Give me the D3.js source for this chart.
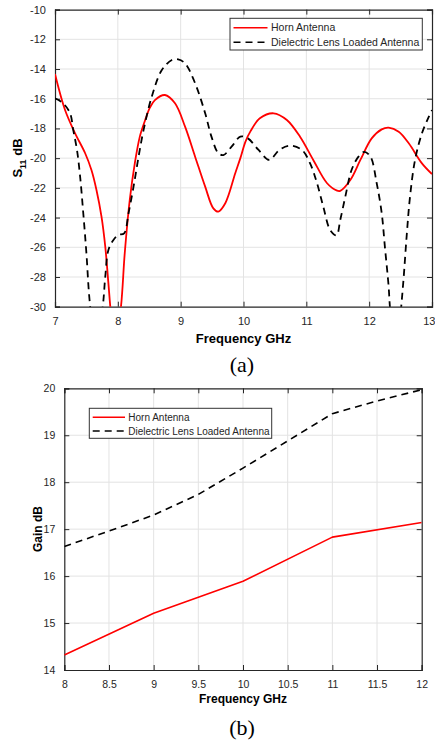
<!DOCTYPE html>
<html>
<head>
<meta charset="utf-8">
<script src="https://cdn.jsdelivr.net/npm/d3@7"></script>
<style>
  html, body { margin: 0; padding: 0; background: #fff; }
  svg { display: block; }
</style>
</head>
<body>
<svg id="chart" width="435" height="742"></svg>
<script>
// ---------- Data: (a) S11 ----------
const hornFreqA = [7.0, 7.16, 7.32, 7.48, 7.58, 7.66, 7.74, 7.80, 7.85, 7.88, 7.95, 8.05, 8.11, 8.19, 8.27, 8.35, 8.43, 8.51, 8.59, 8.75, 8.91, 9.07, 9.23, 9.39, 9.52, 9.60, 9.71, 9.87, 9.95, 10.03, 10.11, 10.26, 10.48, 10.69, 10.90, 11.11, 11.33, 11.49, 11.54, 11.70, 11.86, 12.04, 12.20, 12.31, 12.47, 12.63, 12.84, 13.0];
const hornS11 = [-14.34, -16.76, -18.33, -19.67, -20.8, -22.14, -23.94, -25.96, -28.43, -30.0, -33.0, -30.0, -26.4, -22.8, -20.35, -18.55, -17.5, -16.6, -16.09, -15.75, -16.31, -17.88, -19.9, -21.92, -23.38, -23.6, -23.04, -21.0, -20.0, -18.9, -18.2, -17.32, -16.98, -17.43, -18.56, -20.12, -21.69, -22.19, -22.2, -21.47, -20.12, -18.67, -18.06, -17.95, -18.22, -19.0, -20.35, -21.07];

const lensFreqA = [7.0, 7.13, 7.24, 7.29, 7.35, 7.40, 7.45, 7.50, 7.55, 7.65, 7.76, 7.80, 7.85, 7.93, 8.01, 8.10, 8.17, 8.25, 8.33, 8.41, 8.54, 8.70, 8.86, 8.96, 9.07, 9.23, 9.39, 9.49, 9.60, 9.68, 9.81, 9.95, 10.07, 10.24, 10.41, 10.57, 10.73, 10.93, 11.06, 11.17, 11.27, 11.38, 11.48, 11.54, 11.62, 11.72, 11.83, 11.92, 12.02, 12.12, 12.20, 12.25, 12.31, 12.33, 12.42, 12.51, 12.55, 12.60, 12.65, 12.73, 12.84, 12.95, 13.0];
const lensS11 = [-15.97, -16.31, -16.98, -18.1, -19.45, -21.25, -23.71, -26.4, -29.55, -33.0, -30.0, -27.98, -26.18, -25.51, -25.17, -25.06, -23.71, -21.92, -19.9, -18.1, -15.86, -14.07, -13.39, -13.35, -13.62, -14.96, -16.98, -18.55, -19.67, -19.79, -19.23, -18.55, -18.67, -19.45, -20.12, -19.45, -19.16, -19.45, -20.35, -21.69, -23.27, -24.84, -25.2, -24.16, -22.6, -20.8, -19.9, -19.58, -19.9, -21.69, -23.71, -25.96, -28.65, -30.0, -34.0, -30.0, -27.98, -25.06, -22.6, -20.12, -18.33, -17.21, -16.76];

const xTicksA = [7, 8, 9, 10, 11, 12, 13];
const yTicksA = [-30, -28, -26, -24, -22, -20, -18, -16, -14, -12, -10];

// ---------- Data: (b) Gain ----------
const freqB = [8, 9, 10, 11, 12];
const hornGain = [14.32, 15.21, 15.89, 16.83, 17.14];
const lensFreqB = [8, 8.5, 9, 9.5, 10, 10.5, 11, 11.5, 12];
const lensGain = [16.63, 16.96, 17.30, 17.74, 18.30, 18.88, 19.46, 19.73, 19.97];

const xTicksB = [8, 8.5, 9, 9.5, 10, 10.5, 11, 11.5, 12];
const yTicksB = [14, 15, 16, 17, 18, 19, 20];

const seriesNames = ["Horn Antenna", "Dielectric Lens Loaded Antenna"];

// ---------- Drawing ----------
const svg = d3.select("#chart");
const FONT = "'Liberation Sans', Arial, Helvetica, sans-serif";
const TXT = "#262626";
const DASH = "7,5";

function panel(opts) {
  const { id, left, top, right, bottom, xDomain, yDomain, xTicks, yTicks, tickFmt, tickFont } = opts;
  const x = d3.scaleLinear().domain(xDomain).range([left, right]);
  const y = d3.scaleLinear().domain(yDomain).range([bottom, top]);
  const g = svg.append("g");

  // grid
  g.append("g").selectAll("line").data(xTicks.slice(1, -1)).join("line")
    .attr("x1", d => x(d)).attr("x2", d => x(d)).attr("y1", top).attr("y2", bottom)
    .attr("stroke", "#e3e3e3").attr("stroke-width", 1);
  g.append("g").selectAll("line").data(yTicks.slice(1, -1)).join("line")
    .attr("y1", d => y(d)).attr("y2", d => y(d)).attr("x1", left).attr("x2", right)
    .attr("stroke", "#e3e3e3").attr("stroke-width", 1);

  svg.append("clipPath").attr("id", id).append("rect")
    .attr("x", left).attr("y", top).attr("width", right - left).attr("height", bottom - top);

  const tl = 5;
  const axB = g.append("g").attr("transform", `translate(0,${bottom})`)
    .call(d3.axisBottom(x).tickValues(xTicks).tickSize(-tl).tickPadding(tl + 6).tickFormat(tickFmt.x));
  const axT = g.append("g").attr("transform", `translate(0,${top})`)
    .call(d3.axisTop(x).tickValues(xTicks).tickSize(-tl).tickFormat(""));
  const axL = g.append("g").attr("transform", `translate(${left},0)`)
    .call(d3.axisLeft(y).tickValues(yTicks).tickSize(-tl).tickPadding(tl + 4).tickFormat(tickFmt.y));
  const axR = g.append("g").attr("transform", `translate(${right},0)`)
    .call(d3.axisRight(y).tickValues(yTicks).tickSize(-tl).tickFormat(""));
  [axB, axT, axL, axR].forEach(a => {
    a.select(".domain").attr("stroke", TXT).attr("stroke-width", 1.2);
    a.selectAll(".tick line").attr("stroke", TXT).attr("stroke-width", 1);
    a.selectAll("text").attr("font-family", FONT).attr("font-size", tickFont).attr("fill", TXT);
  });
  return { x, y, g, axB };
}

function drawLine(p, id, xs, ys, color, dash, width, curve) {
  const pts = xs.map((v, i) => [v, ys[i]]);
  const line = d3.line().x(d => p.x(d[0])).y(d => p.y(d[1])).curve(curve);
  p.g.append("path").datum(pts)
    .attr("clip-path", `url(#${id})`)
    .attr("d", line).attr("fill", "none")
    .attr("stroke", color).attr("stroke-width", width)
    .attr("stroke-dasharray", dash)
    .attr("stroke-linejoin", "round");
}

function legend(p, bx, by, bw, bh, lineX1, lineX2, textX, rowY, fs) {
  const lg = p.g.append("g");
  lg.append("rect").attr("x", bx).attr("y", by).attr("width", bw).attr("height", bh)
    .attr("fill", "#fff").attr("stroke", "#333").attr("stroke-width", 1);
  const styles = [{ c: "#ff0000", d: null }, { c: "#000", d: DASH }];
  seriesNames.forEach((name, i) => {
    lg.append("line").attr("x1", lineX1).attr("x2", lineX2).attr("y1", rowY[i]).attr("y2", rowY[i])
      .attr("stroke", styles[i].c).attr("stroke-width", 1.6).attr("stroke-dasharray", styles[i].d);
    lg.append("text").attr("x", textX).attr("y", rowY[i]).attr("dy", "0.35em")
      .attr("font-family", FONT).attr("font-size", fs).attr("fill", TXT).text(name);
  });
}

// ----- Panel (a) -----
const pa = panel({
  id: "clipA", left: 55, top: 9.6, right: 432, bottom: 306.7,
  xDomain: [7, 13], yDomain: [-30, -10], xTicks: xTicksA, yTicks: yTicksA,
  tickFmt: { x: d3.format("d"), y: d => d3.format("d")(d).replace("−", "-") }, tickFont: 11
});
// keep the last x label inside the page
pa.axB.selectAll(".tick text").filter(d => d === 13).attr("text-anchor", "end").attr("dx", 3);
drawLine(pa, "clipA", hornFreqA, hornS11, "#ff0000", null, 1.8, d3.curveCatmullRom.alpha(0.5));
drawLine(pa, "clipA", lensFreqA, lensS11, "#000", DASH, 1.8, d3.curveCatmullRom.alpha(0.5));
legend(pa, 230, 18.3, 192.3, 31.7, 233.5, 267.5, 271, [27.7, 42.3], 10.5);

const ya = svg.append("text")
  .attr("transform", `translate(22,158) rotate(-90)`)
  .attr("text-anchor", "middle").attr("font-family", FONT).attr("font-weight", "bold")
  .attr("font-size", 13).attr("fill", "#000");
ya.append("tspan").text("S");
ya.append("tspan").attr("font-size", 9).attr("dy", 4).text("11");
ya.append("tspan").attr("dy", -4).text(" dB");

svg.append("text").attr("x", 243.5).attr("y", 343).attr("text-anchor", "middle")
  .attr("font-family", FONT).attr("font-weight", "bold").attr("font-size", 13).attr("fill", "#000")
  .text("Frequency GHz");
svg.append("text").attr("x", 242).attr("y", 372).attr("text-anchor", "middle")
  .attr("font-family", "'Liberation Serif', 'Times New Roman', serif").attr("font-size", 22).attr("fill", "#000")
  .text("(a)");

// ----- Panel (b) -----
const pb = panel({
  id: "clipB", left: 64.3, top: 388.3, right: 421.7, bottom: 670,
  xDomain: [8, 12], yDomain: [14, 20], xTicks: xTicksB, yTicks: yTicksB,
  tickFmt: { x: d => String(d), y: d => String(d) }, tickFont: 10.5
});
drawLine(pb, "clipB", freqB, hornGain, "#ff0000", null, 1.6, d3.curveLinear);
drawLine(pb, "clipB", lensFreqB, lensGain, "#000", DASH, 1.6, d3.curveLinear);
legend(pb, 89.3, 408.3, 182.4, 30, 92.7, 125, 128.3, [417.3, 431], 10);

svg.append("text")
  .attr("transform", `translate(41.5,529) rotate(-90)`)
  .attr("text-anchor", "middle").attr("font-family", FONT).attr("font-weight", "bold")
  .attr("font-size", 12).attr("fill", "#000").text("Gain dB");

svg.append("text").attr("x", 243).attr("y", 703).attr("text-anchor", "middle")
  .attr("font-family", FONT).attr("font-weight", "bold").attr("font-size", 12).attr("fill", "#000")
  .text("Frequency GHz");
svg.append("text").attr("x", 242).attr("y", 735).attr("text-anchor", "middle")
  .attr("font-family", "'Liberation Serif', 'Times New Roman', serif").attr("font-size", 22).attr("fill", "#000")
  .text("(b)");
</script>
</body>
</html>
